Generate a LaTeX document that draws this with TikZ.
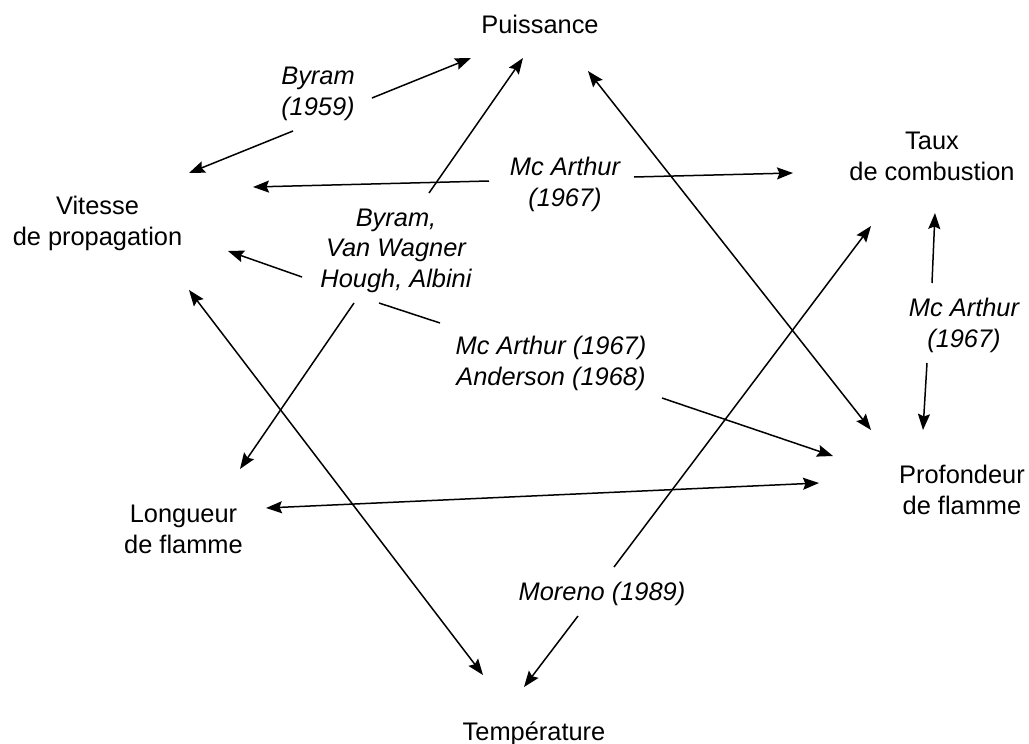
\documentclass[tikz,border=0pt]{standalone}
\usepackage{fontspec}
\setmainfont{Liberation Sans}
\usetikzlibrary{arrows.meta,positioning}

\begin{document}
\begin{tikzpicture}[x=1pt,y=-1pt,>={Stealth[length=16pt,width=12pt,inset=2.5pt]},
    concept/.style={font=\fontsize{25.4}{30.5}\selectfont,align=center,anchor=base,inner sep=0pt},
    source/.style={concept,font=\fontsize{25.4}{30.5}\selectfont\itshape},
    link/.style={line width=1.5pt}]
  \useasboundingbox (0,0) rectangle (1029,744);
  % quantities (placed at the baseline of their last line)
  \node[concept] (puis) at (540,34) {Puissance};
  \node[concept] (taux) at (932,180) {Taux\\de combustion};
  \node[concept] (vit) at (97.5,245) {Vitesse\\de propagation};
  \node[concept] (prof) at (962,514) {Profondeur\\de flamme};
  \node[concept] (long) at (183.5,553) {Longueur\\de flamme};
  \node[concept] (temp) at (534,740) {Température};
  % authors
  \node[source] (byr) at (318,115) {Byram\\(1959)};
  \node[source] (mca) at (565,206) {Mc Arthur\\(1967)};
  \node[source] (bvw) at (396,287) {Byram,\\Van Wagner\\Hough, Albini};
  \node[source] (mcan) at (551,385) {Mc Arthur (1967)\\Anderson (1968)};
  \node[source] (mcb) at (964,347) {Mc Arthur\\(1967)};
  \node[source] (mor) at (602,600) {Moreno (1989)};
  % ends of the links
  \coordinate (byr-l) at (293,131); \coordinate (byr-r) at (372,98);
  \coordinate (vit-byr) at (189,173); \coordinate (puis-byr) at (471,58);
  \coordinate (mca-l) at (489,181); \coordinate (mca-r) at (634,177);
  \coordinate (vit-mca) at (253,187); \coordinate (taux-mca) at (793,173);
  \coordinate (bvw-d) at (354,303); \coordinate (bvw-u) at (429,193);
  \coordinate (long-bvw) at (240,469); \coordinate (puis-bvw) at (523,58);
  \coordinate (bvw-l) at (302,277); \coordinate (bvw-r) at (379,303);
  \coordinate (mcan-l) at (440,323); \coordinate (mcan-r) at (662,398);
  \coordinate (vit-mcan) at (228,251); \coordinate (prof-mcan) at (833,456);
  \coordinate (puis-prof) at (588,71); \coordinate (prof-puis) at (871,430);
  \coordinate (vit-temp) at (189,290); \coordinate (temp-vit) at (483,675);
  \coordinate (long-prof) at (266,508); \coordinate (prof-long) at (819,483);
  \coordinate (mor-u) at (614,567); \coordinate (mor-d) at (578,616);
  \coordinate (taux-mor) at (871,226); \coordinate (temp-mor) at (524,687);
  \coordinate (mcb-u) at (932,283); \coordinate (mcb-d) at (927,363);
  \coordinate (taux-mcb) at (935,213); \coordinate (prof-mcb) at (923,430);
  % links
  \foreach \a/\b in {byr-l/vit-byr,byr-r/puis-byr,mca-l/vit-mca,mca-r/taux-mca,
      bvw-d/long-bvw,bvw-u/puis-bvw,bvw-l/vit-mcan,mcan-r/prof-mcan,
      mor-u/taux-mor,mor-d/temp-mor,mcb-u/taux-mcb,mcb-d/prof-mcb}
    \draw[link,->] (\a) -- (\b);
  \draw[link] (bvw-r) -- (mcan-l);
  \foreach \a/\b in {puis-prof/prof-puis,vit-temp/temp-vit,long-prof/prof-long}
    \draw[link,<->] (\a) -- (\b);
\end{tikzpicture}
\end{document}
